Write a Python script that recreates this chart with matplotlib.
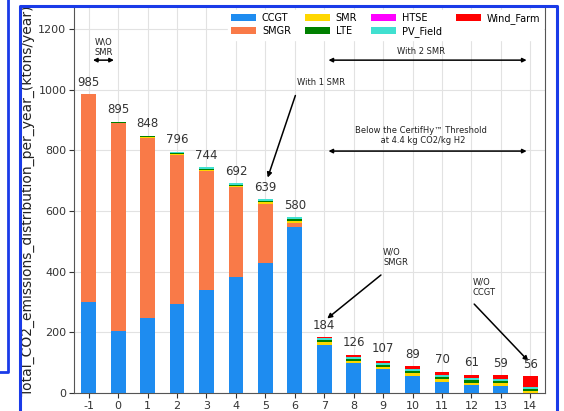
import matplotlib.pyplot as plt
import matplotlib.lines as mlines
import numpy as np

plt.rcParams["axes.unicode_minus"] = False

# scenarios on the x axis
scenarios = [-1, 0, 1, 2, 3, 4, 5, 6, 7, 8, 9, 10, 11, 12, 13, 14]
totals = [985, 895, 848, 796, 744, 692, 639, 580, 184, 126, 107, 89, 70, 61, 59, 56]

# emissions per technology (ktons/year), stacked bottom to top
ccgt = [300, 204, 247, 293, 340, 384, 430, 548, 158, 99, 78, 57, 37, 26, 24, 0]
smgr = [685, 687, 595, 492, 392, 294, 195, 14, 0, 0, 0, 0, 0, 0, 0, 0]
smr = [0, 0, 2, 3, 3, 4, 4, 6, 10, 7, 8, 9, 8, 8, 8, 7]
lte = [0, 4, 4, 4, 5, 4, 5, 6, 8, 7, 7, 8, 8, 8, 8, 6]
htse = [0, 0, 0, 0, 0, 0, 0, 0, 0, 0, 0, 0, 0, 0, 0, 0]
pv_field = [0, 0, 0, 4, 4, 6, 5, 6, 6, 6, 6, 6, 6, 6, 6, 6]
wind_farm = [0, 0, 0, 0, 0, 0, 0, 0, 2, 7, 8, 9, 11, 13, 13, 37]

series = [("CCGT", ccgt, "#1e8cf0"), ("SMGR", smgr, "#f97a48"),
          ("SMR", smr, "#ffd700"), ("LTE", lte, "#008000"),
          ("HTSE", htse, "#ff00ff"), ("PV_Field", pv_field, "#40e0d0"),
          ("Wind_Farm", wind_farm, "#ff0000")]

fig = plt.figure(figsize=(5.64, 4.11), dpi=100)
ax = fig.add_axes([74 / 564, 18 / 411, 471 / 564, 385 / 411])

x = np.array(scenarios)
bottom = np.zeros(len(x))
for name, vals, col in series:
    ax.bar(x, vals, width=0.5, bottom=bottom, color=col, label=name, zorder=3)
    bottom += np.array(vals)

for xi, t in zip(x, totals):
    ax.text(xi, t + 18, str(t), ha="center", va="bottom", fontsize=8.5,
            color="#333333", zorder=4)

ax.set_xlim(-1.5, 14.5)
ax.set_ylim(0, 1270)
ax.set_xticks(scenarios)
ax.set_yticks([0, 200, 400, 600, 800, 1000, 1200])
ax.tick_params(labelsize=8, colors="#333333", pad=2)
ax.grid(True, color="#e2e2e2", lw=0.8, zorder=0)
for s in ax.spines.values():
    s.set_color("#555555")
ax.spines["top"].set_visible(False)
ax.set_ylabel("Total_CO2_emissions_distribution_per_year_(ktons/year)",
              fontsize=10, color="#222222", labelpad=2)

leg = ax.legend(loc="upper right", ncol=4, fontsize=7, frameon=True,
                framealpha=1, edgecolor="white", handlelength=2.6,
                handleheight=0.7, handletextpad=0.6, columnspacing=1.4,
                labelspacing=0.35, borderpad=0.3, borderaxespad=0.2,
                bbox_to_anchor=(1.0, 1.0))
leg.set_zorder(6)

arrow = dict(arrowstyle="<|-|>", color="black", lw=1.1, mutation_scale=6)
one_way = dict(arrowstyle="-|>", color="black", lw=1.1, mutation_scale=7)
note = dict(fontsize=6, color="#222222")

# W\O SMR
ax.annotate("", xy=(-0.95, 1098), xytext=(-0.05, 1098), arrowprops=arrow)
ax.text(-0.5, 1140, "W\\O\nSMR", ha="center", va="center", **note)

# With 2 SMR
ax.annotate("", xy=(7.05, 1098), xytext=(13.97, 1098), arrowprops=arrow)
ax.text(10.3, 1128, "With 2 SMR", ha="center", va="center", zorder=7, **note)

# CertifHy threshold
ax.annotate("", xy=(7.05, 798), xytext=(13.97, 798), arrowprops=arrow)
ax.text(10.3, 850, "Below the CertifHy\u2122 Threshold\n at 4.4 kg CO2/kg H2",
        ha="center", va="center", **note)

# With 1 SMR
ax.annotate("", xy=(5.05, 702), xytext=(6.05, 990), arrowprops=one_way)
ax.text(6.9, 1025, "With 1 SMR", ha="center", va="center", **note)

# W/O SMGR
ax.annotate("", xy=(7.03, 240), xytext=(9.0, 395), arrowprops=one_way)
ax.text(9.0, 448, "W/O\nSMGR", ha="left", va="center", **note)

# W/O CCGT
ax.annotate("", xy=(14.0, 99), xytext=(12.03, 300), arrowprops=one_way)
ax.text(12.03, 350, "W/O\nCCGT", ha="left", va="center", **note)

# slide frame around the chart
blue = "#1a3be8"
fig.add_artist(mlines.Line2D([20 / 564, 20 / 564, 557 / 564, 557 / 564],
                             [0, 1 - 6 / 411, 1 - 6 / 411, 0],
                             transform=fig.transFigure, color=blue, lw=2.2))
fig.add_artist(mlines.Line2D([8 / 564, 8 / 564, 0], [1, 1 - 372 / 411, 1 - 372 / 411],
                             transform=fig.transFigure, color=blue, lw=2))

fig.savefig("out.png", dpi=100)
